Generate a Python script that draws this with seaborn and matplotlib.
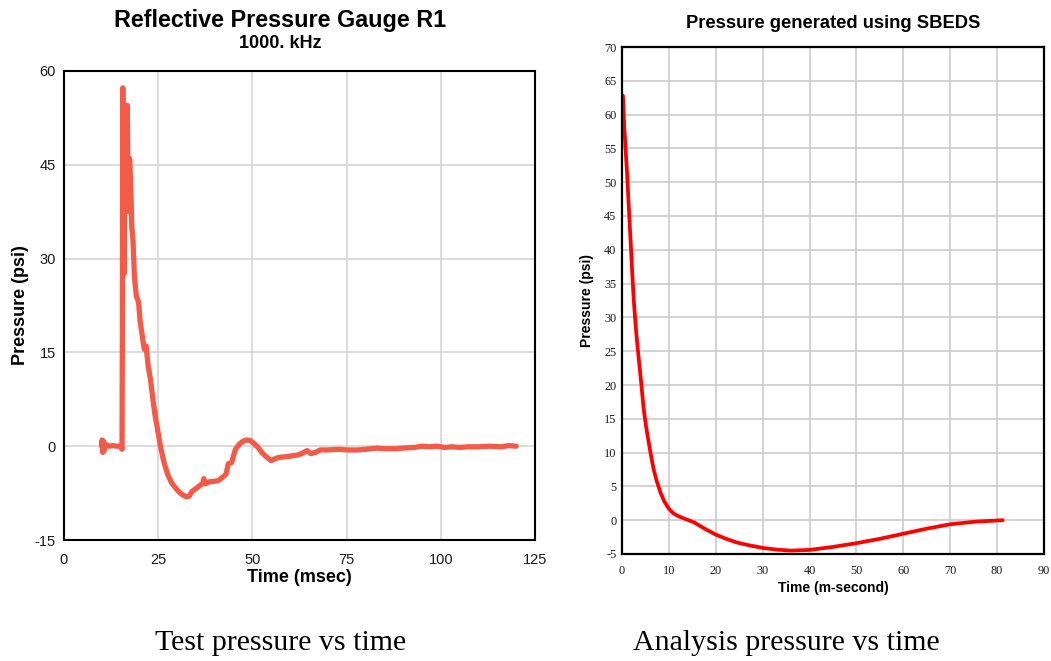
import pandas as pd
import seaborn as sns
import matplotlib
matplotlib.use("Agg")
import matplotlib.pyplot as plt

# test gauge trace (msec, psi)
test_time = [10.0, 10.1, 10.3, 10.5, 10.7, 11.0, 12.0, 13.0, 14.0, 15.2, 15.4,
             15.5, 15.6, 15.8, 15.9, 16.0, 16.1, 16.3, 16.5, 16.8, 17.0, 17.2,
             17.4, 17.7, 18.0, 18.3, 18.7, 19.2, 19.8, 20.2, 20.8, 21.3, 21.8,
             22.3, 23.0, 23.6, 24.2, 24.8, 25.5, 26.5, 27.5, 28.5, 29.5, 30.5,
             31.5, 32.5, 33.2, 34.0, 35.0, 36.0, 36.8, 37.1, 37.5, 38.5, 40.0,
             41.0, 42.0, 43.0, 43.6, 44.5, 45.0, 45.5, 46.5, 47.5, 48.5, 49.5,
             50.5, 51.5, 52.5, 53.5, 55.0, 56.0, 57.0, 58.5, 60.0, 62.0, 63.0,
             64.5, 65.5, 67.0, 68.0, 70.0, 73.0, 75.0, 78.0, 80.0, 83.0, 85.0,
             88.0, 90.0, 93.0, 95.0, 97.0, 99.0, 101.0, 103.0, 105.0, 107.0,
             110.0, 113.0, 116.0, 118.0, 120.0]
test_psi = [0.0, 1.0, -1.0, 0.8, -0.6, 0.3, 0.0, 0.1, 0.0, 0.0, -0.5,
            20.0, 57.3, 40.0, 27.5, 28.0, 50.0, 38.0, 53.0, 54.5, 40.0, 37.5,
            46.0, 42.0, 35.0, 33.0, 27.0, 24.0, 23.0, 20.0, 17.5, 15.5, 16.0,
            13.0, 10.5, 7.5, 4.8, 2.8, 0.3, -2.5, -4.5, -5.8, -6.6, -7.3,
            -7.8, -8.1, -8.0, -7.2, -6.8, -6.3, -6.0, -5.2, -6.0, -5.7, -5.6,
            -5.5, -5.0, -4.5, -2.8, -2.6, -1.5, -0.5, 0.3, 0.8, 1.0, 0.9,
            0.4, -0.2, -1.0, -1.6, -2.3, -2.0, -1.8, -1.7, -1.6, -1.4, -1.2,
            -0.7, -1.2, -0.9, -0.6, -0.6, -0.5, -0.6, -0.6, -0.5, -0.3, -0.4,
            -0.4, -0.3, -0.2, 0.0, -0.1, 0.0, -0.2, -0.1, -0.2, -0.1,
            -0.1, 0.0, -0.1, 0.1, 0.0]

# SBEDS analysis curve (m-second, psi)
sbeds_time = [0.2, 0.5, 0.8, 1.07, 1.4, 1.8, 2.15, 2.5, 3.0, 3.55, 4.0, 4.6,
              5.1, 5.7, 6.2, 6.75, 7.4, 8.2, 9.0, 9.9, 10.8, 11.7, 12.7, 13.8,
              15.3, 17.5, 19.9, 22.0, 24.5, 27.0, 30.0, 33.0, 35.9, 40.0, 45.0,
              50.0, 55.0, 60.0, 65.0, 70.0, 75.6, 81.2]
sbeds_psi = [62.8, 58.0, 54.5, 51.4, 47.0, 41.7, 37.0, 32.6, 28.0, 24.0, 21.0,
             16.6, 14.0, 11.5, 9.5, 7.5, 5.8, 4.1, 2.8, 1.8, 1.1, 0.7, 0.4, 0.1,
             -0.3, -1.2, -2.1, -2.7, -3.3, -3.7, -4.1, -4.35, -4.5, -4.4, -3.95,
             -3.4, -2.75, -2.0, -1.25, -0.6, -0.2, 0.0]

left_xticks = [0, 25, 50, 75, 100, 125]
left_yticks = [-15, 0, 15, 30, 45, 60]
right_xticks = list(range(0, 100, 10))
right_yticks = list(range(-5, 75, 5))

sns.set_theme(style="whitegrid")
plt.rcParams["font.family"] = ["Liberation Sans", "DejaVu Sans"]
plt.rcParams["axes.unicode_minus"] = False
plt.rcParams["text.color"] = "black"
plt.rcParams["axes.labelcolor"] = "black"

W, H = 1051, 661
fig = plt.figure(figsize=(W / 100, H / 100), dpi=100)


def px_axes(left, top, right, bottom):
    return fig.add_axes([left / W, 1 - bottom / H, (right - left) / W, (bottom - top) / H])


test_df = pd.DataFrame({"time": test_time, "psi": test_psi})
sbeds_df = pd.DataFrame({"time": sbeds_time, "psi": sbeds_psi})

# left: test gauge
ax1 = px_axes(64, 71, 535, 540)
sns.lineplot(data=test_df, x="time", y="psi", ax=ax1, color="#f45a48",
             linewidth=3.8, estimator=None, sort=False)
ax1.set_xlim(0, 125)
ax1.set_ylim(-15, 60)
ax1.set_xticks(left_xticks)
ax1.set_yticks(left_yticks)
ax1.grid(True, color="#d2d2d2", linewidth=1.1)
for s in ax1.spines.values():
    s.set_color("black")
    s.set_linewidth(1.5)
ax1.tick_params(axis="both", length=0, labelsize=10.5, colors="#1a1a1a")
ax1.tick_params(axis="x", pad=9)
ax1.tick_params(axis="y", pad=6)
ax1.set_xlabel("Time (msec)", fontsize=13, fontweight="bold", labelpad=2)
ax1.set_ylabel("Pressure (psi)", fontsize=13, fontweight="bold")
ax1.yaxis.set_label_coords((29 - 64) / 471, 0.5)
fig.text(280 / W, 1 - 20 / H, "Reflective Pressure Gauge R1", ha="center", va="center",
         fontsize=16.8, fontweight="bold")
fig.text(280 / W, 1 - 44 / H, "1000. kHz", ha="center", va="center",
         fontsize=13, fontweight="bold")

# right: SBEDS analysis
ax2 = px_axes(622, 47, 1044, 554)
sns.lineplot(data=sbeds_df, x="time", y="psi", ax=ax2, color="#ff0000",
             linewidth=2.7, estimator=None, sort=False)
ax2.set_xlim(0, 90)
ax2.set_ylim(-5, 70)
ax2.set_xticks(right_xticks)
ax2.set_yticks(right_yticks)
ax2.grid(True, color="#c8c8c8", linewidth=1.1)
for s in ax2.spines.values():
    s.set_color("black")
    s.set_linewidth(1.6)
ax2.tick_params(axis="both", length=0, labelsize=8.8, colors="#1a1a1a")
ax2.tick_params(axis="x", pad=8)
ax2.tick_params(axis="y", pad=4)
for lab in ax2.get_xticklabels() + ax2.get_yticklabels():
    lab.set_family("Liberation Serif")
ax2.set_xlabel("Time (m-second)", fontsize=10, fontweight="bold", labelpad=3)
ax2.set_ylabel("Pressure (psi)", fontsize=10, fontweight="bold")
ax2.yaxis.set_label_coords((594 - 622) / 422, 0.5)
fig.text(833 / W, 1 - 23 / H, "Pressure generated using SBEDS", ha="center", va="center",
         fontsize=13.2, fontweight="bold")

# captions under each chart
fig.text(281 / W, 1 - 643 / H, "Test pressure vs time", ha="center", va="center",
         fontsize=21.5, family="Liberation Serif")
fig.text(786 / W, 1 - 643 / H, "Analysis pressure vs time", ha="center", va="center",
         fontsize=21.5, family="Liberation Serif")

fig.savefig("out.png", dpi=100, facecolor="white")
